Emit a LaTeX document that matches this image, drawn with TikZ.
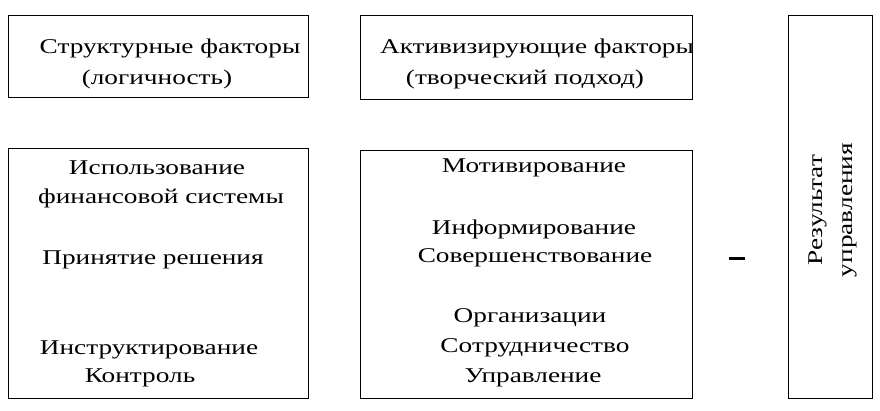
\documentclass[tikz,border=0pt]{standalone}
\usepackage{fontspec}
\setmainfont{Liberation Serif}
\begin{document}
\begin{tikzpicture}[x=1pt,y=-1pt,
  box/.style={draw,line width=1pt},
  t/.style={inner sep=0pt,font=\fontsize{21}{30}\selectfont,anchor=center,xscale=1.3}]
\useasboundingbox (0,0) rectangle (880,410);
\draw[box] (8,15) rectangle (308,97);
\draw[box] (360,15) rectangle (692,99);
\draw[box] (8,148) rectangle (308,398);
\draw[box] (360,150) rectangle (692,398);
\draw[box] (788,15) rectangle (872,398);
\node[t] (a1) at (170,48) {Структурные факторы};
\node[t] (a2) at (157,79) {(логичность)};
\node[t] (b1) at (537,48) {Активизирующие факторы};
\node[t] (b2) at (525,79) {(творческий подход)};
\node[t] (c1) at (157,168) {Использование};
\node[t] (c2) at (161,198) {финансовой системы};
\node[t] (c3) at (153,260) {Принятие решения};
\node[t] (c4) at (149,350) {Инструктирование};
\node[t] (c5) at (140,378) {Контроль};
\node[t] (d1) at (534,168) {Мотивирование};
\node[t] (d2) at (534,229) {Информирование};
\node[t] (d3) at (535,258) {Совершенствование};
\node[t] (d4) at (530,318) {Организации};
\node[t] (d5) at (535,348) {Сотрудничество};
\node[t] (d6) at (533,378) {Управление};
\draw[line width=3pt] (729,258) -- (745,258);
\node[inner sep=0pt,font=\fontsize{21}{30}\selectfont,rotate=90,align=center,xscale=1.3] (r) at (833,210) {Результат\\управления};
\end{tikzpicture}
\end{document}
